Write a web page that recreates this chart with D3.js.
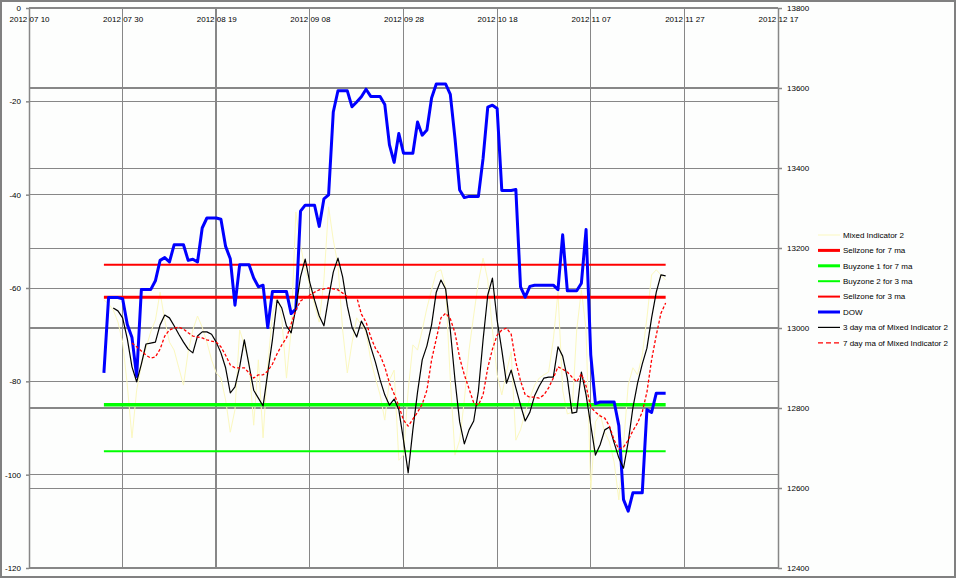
<!DOCTYPE html>
<html><head><meta charset="utf-8">
<script src="https://cdn.jsdelivr.net/npm/d3@7/dist/d3.min.js"></script>
<style>
body{margin:0;background:#fff}
svg{display:block}
text{font-family:"Liberation Sans",Arial,sans-serif;font-size:8px;fill:#000}
</style>
</head><body>
<svg id="chart" width="960" height="584"></svg>
<script>
// ---------------- data ----------------
const axisDates = ["2012-07-10","2012-07-30","2012-08-19","2012-09-08","2012-09-28","2012-10-18","2012-11-07","2012-11-27","2012-12-17"];
const leftTicks = [0,-20,-40,-60,-80,-100,-120];
const rightTicks = [12400,12600,12800,13000,13200,13400,13600,13800];

// daily series, calendar days starting 2012-07-26 (weekends/holidays hold last value)
const seriesStart = "2012-07-26";
const dow = [12888,13076,13076,13076,13073,13009,12976,12879,13096,13096,
13096,13118,13169,13176,13165,13208,13208,13208,13169,13172,
13165,13250,13275,13275,13275,13272,13204,13173,13057,13158,
13158,13158,13125,13103,13107,13001,13091,13091,13091,13091,
13036,13047,13292,13307,13307,13307,13254,13323,13333,13540,
13593,13593,13593,13553,13565,13578,13597,13579,13579,13579,
13559,13458,13414,13486,13437,13437,13437,13515,13482,13495,
13575,13610,13610,13610,13584,13474,13345,13326,13329,13329,
13329,13424,13552,13557,13549,13344,13344,13344,13346,13103,
13077,13104,13107,13107,13107,13107,13107,13096,13233,13093,
13093,13093,13112,13246,12933,12811,12815,12815,12815,12815,
12756,12571,12542,12588,12588,12588,12796,12789,12837,12837,12837];

const mixed = [-62.6,-63.4,-64.7,-67.3,-71.6,-80.8,-92.1,-81.9,-76.5,-72.9,
-69.4,-66.9,-60.9,-66.9,-71.6,-73.3,-77.1,-80.8,-73.7,-69.0,
-66.0,-68.4,-71.6,-75.4,-78.2,-79.3,-84.0,-90.9,-86.1,-69.0,
-72.2,-75.9,-89.4,-75.4,-92.1,-76.5,-65.8,-61.5,-66.4,-79.3,
-69.0,-43.7,-50.8,-56.1,-59.4,-63.6,-67.3,-58.3,-42.6,-49.7,
-55.1,-69.0,-78.2,-71.8,-66.4,-67.9,-69.4,-75.4,-79.3,-82.9,
-88.3,-79.7,-77.6,-96.9,-95.8,-81.9,-72.2,-73.3,-69.0,-64.3,
-60.4,-56.6,-56.1,-60.0,-79.7,-95.8,-92.6,-84.0,-73.3,-65.8,
-58.7,-53.6,-58.3,-69.0,-78.6,-82.9,-78.0,-73.7,-92.6,-90.4,
-86.6,-83.6,-80.8,-79.3,-78.6,-78.0,-71.1,-60.9,-81.9,-87.0,
-86.6,-69.0,-60.4,-69.0,-103.3,-88.7,-87.0,-90.9,-93.0,-97.3,
-105.4,-93.6,-80.8,-77.1,-78.6,-74.4,-66.4,-57.2,-56.1,-57.2,-58.3];

const ma3Start = "2012-07-28";
const ma3 = [-64.3,-64.9,-66.4,-70.9,-76.9,-80.1,-76.3,-72.0,-71.8,-71.6,
-67.9,-65.8,-66.4,-68.1,-69.9,-71.6,-73.1,-73.9,-70.3,-69.4,
-69.4,-69.9,-71.6,-73.9,-77.1,-82.5,-81.2,-76.9,-71.1,-76.5,
-81.9,-83.6,-85.3,-78.2,-71.1,-62.6,-64.3,-68.1,-69.6,-64.3,
-57.6,-53.8,-58.9,-62.6,-66.0,-68.1,-62.1,-56.6,-53.6,-57.6,
-63.9,-68.4,-70.5,-67.1,-69.0,-72.6,-75.9,-79.7,-82.9,-85.1,
-83.8,-86.1,-92.6,-99.6,-90.4,-82.3,-75.4,-72.4,-67.9,-60.9,
-58.3,-60.2,-69.0,-79.7,-88.7,-93.4,-90.4,-88.5,-82.1,-71.1,
-61.5,-57.9,-66.9,-73.3,-80.4,-77.6,-81.4,-85.1,-88.5,-86.6,
-83.1,-81.0,-79.3,-79.1,-79.1,-72.6,-74.6,-79.3,-86.8,-86.6,
-78.0,-82.9,-89.4,-95.8,-93.6,-90.4,-89.8,-93.2,-96.4,-98.6,
-93.0,-85.7,-80.4,-76.3,-72.9,-66.4,-60.9,-57.2,-57.4];

const ma7Start = "2012-08-01";
const ma7 = [-71.8,-72.6,-73.5,-74.4,-75.0,-74.8,-73.1,-70.3,-69.0,-68.6,
-68.4,-68.8,-69.6,-70.3,-70.5,-70.7,-71.1,-71.4,-71.6,-72.6,
-74.4,-76.5,-77.1,-77.1,-77.1,-78.2,-79.3,-78.6,-78.6,-77.8,
-76.3,-74.1,-72.2,-70.7,-67.7,-64.7,-62.8,-62.1,-61.5,-60.9,
-60.4,-60.2,-60.0,-60.2,-60.4,-61.1,-61.9,-61.9,-61.9,-65.6,
-67.3,-70.5,-72.9,-74.4,-76.9,-80.4,-82.7,-85.3,-88.3,-89.6,
-88.1,-86.6,-84.9,-81.9,-75.4,-70.9,-66.4,-65.4,-66.6,-69.6,
-75.0,-78.6,-81.6,-84.6,-85.1,-82.9,-77.1,-73.1,-70.1,-69.0,
-68.6,-69.9,-75.9,-79.9,-82.9,-83.4,-83.4,-83.6,-82.9,-81.4,
-79.3,-76.9,-77.4,-78.0,-79.1,-80.1,-78.4,-81.0,-85.5,-86.6,
-87.4,-87.9,-89.6,-92.6,-94.5,-94.1,-92.6,-90.6,-88.9,-86.6,
-82.3,-75.4,-70.1,-65.4,-63.2];

const zoneNames = ["Sellzone for 7 ma","Buyzone 1 for 7 ma","Buyzone 2 for 3 ma","Sellzone for 3 ma"];
const zoneValues = [-62,-85,-95,-55];

const legendNames = ["Mixed Indicator 2","Sellzone for 7 ma","Buyzone 1 for 7 ma","Buyzone 2 for 3 ma","Sellzone for 3 ma","DOW","3 day ma of Mixed Indicator 2","7 day ma of Mixed Indicator 2"];

// ---------------- styles ----------------
const GRID = "#878787";
const styles = {
  "Mixed Indicator 2": {stroke:"#fbf8bf", width:1, dash:null},
  "Sellzone for 7 ma": {stroke:"#ff0000", width:3, dash:null},
  "Buyzone 1 for 7 ma": {stroke:"#00ff00", width:3.5, dash:null},
  "Buyzone 2 for 3 ma": {stroke:"#00ff00", width:2, dash:null},
  "Sellzone for 3 ma": {stroke:"#ff0000", width:2, dash:null},
  "DOW": {stroke:"#0000ff", width:3, dash:null},
  "3 day ma of Mixed Indicator 2": {stroke:"#000000", width:1.2, dash:null},
  "7 day ma of Mixed Indicator 2": {stroke:"#ff0000", width:1.3, dash:"3,2"}
};

// ---------------- build ----------------
const parse = d3.utcParse("%Y-%m-%d");
const fmt = d3.utcFormat("%Y %m %d");
const tickDates = axisDates.map(parse);
const toPoints = (start, arr) => arr.map((v,i)=>({date:d3.utcDay.offset(parse(start), i), v}));
const dowPts = toPoints(seriesStart, dow);
const mixedPts = toPoints(seriesStart, mixed);
const ma3Pts = toPoints(ma3Start, ma3);
const ma7Pts = toPoints(ma7Start, ma7);
const firstDate = dowPts[0].date, lastDate = dowPts[dowPts.length-1].date;

const L = 29, R = 778, T = 8, B = 568;
const x = d3.scaleUtc().domain([tickDates[0], tickDates[tickDates.length-1]]).range([L,R]);
const yL = d3.scaleLinear().domain([-120,0]).range([B,T]);
const yR = d3.scaleLinear().domain([12400,13800]).range([B,T]);

const svg = d3.select("#chart");
svg.append("rect").attr("width",960).attr("height",584).attr("fill","#fff");
svg.append("rect").attr("x",1).attr("y",1).attr("width",954).attr("height",576)
  .attr("fill","#fdfefd").attr("stroke","#808080").attr("stroke-width",2);

// gridlines
const grid = svg.append("g");
const thickRight = [13600,13000,12800];
grid.selectAll(".hl").data(leftTicks).join("line")
  .attr("x1",L).attr("x2",R).attr("y1",d=>yL(d)).attr("y2",d=>yL(d))
  .attr("stroke",GRID).attr("stroke-width",1).attr("shape-rendering","crispEdges");
grid.selectAll(".hr").data(rightTicks).join("line")
  .attr("x1",L).attr("x2",R).attr("y1",d=>yR(d)).attr("y2",d=>yR(d))
  .attr("stroke",GRID).attr("stroke-width",d=>thickRight.includes(d)?2:1).attr("shape-rendering","crispEdges");
grid.selectAll(".v").data(tickDates).join("line")
  .attr("x1",d=>x(d)).attr("x2",d=>x(d)).attr("y1",T).attr("y2",B)
  .attr("stroke",GRID).attr("stroke-width",(d,i)=>i===2?2:1).attr("shape-rendering","crispEdges");
grid.append("line").attr("x1",L).attr("x2",R).attr("y1",B).attr("y2",B)
  .attr("stroke",GRID).attr("stroke-width",2);
grid.append("line").attr("x1",L).attr("x2",R).attr("y1",T).attr("y2",T)
  .attr("stroke",GRID).attr("stroke-width",2);

// axes
const styleAxis = g => {
  g.selectAll(".domain").attr("stroke",GRID).attr("stroke-width",1.5);
  g.selectAll(".tick line").attr("stroke",GRID).attr("stroke-width",1.5);
  g.selectAll("text").attr("font-family",null).attr("font-size",null);
};
svg.append("g").attr("transform",`translate(${L},0)`)
  .call(d3.axisLeft(yL).tickValues(leftTicks).tickFormat(d=>String(d)).tickSize(3).tickPadding(5).tickSizeOuter(0))
  .call(styleAxis);
svg.append("g").attr("transform",`translate(${R},0)`)
  .call(d3.axisRight(yR).tickValues(rightTicks).tickFormat(d=>String(d)).tickSize(4).tickPadding(5).tickSizeOuter(0))
  .call(styleAxis);
svg.append("g").attr("transform",`translate(0,${T})`)
  .call(d3.axisBottom(x).tickValues(tickDates).tickFormat(fmt).tickSize(0).tickPadding(8).tickSizeOuter(0))
  .call(g=>{g.select(".domain").remove(); g.selectAll("text").attr("font-family",null).attr("font-size",null);});

// series
const plot = svg.append("g").attr("fill","none").attr("stroke-linejoin","round");
const lineL = d3.line().x(d=>x(d.date)).y(d=>yL(d.v));
const lineR = d3.line().x(d=>x(d.date)).y(d=>yR(d.v));
const applyStyle = (sel, name) => {
  const s = styles[name];
  sel.attr("stroke",s.stroke).attr("stroke-width",s.width);
  if (s.dash) sel.attr("stroke-dasharray",s.dash);
};
plot.append("path").datum(mixedPts).attr("d",lineL).call(applyStyle,"Mixed Indicator 2");
zoneNames.forEach((n,i)=>{
  plot.append("line").attr("x1",x(firstDate)).attr("x2",x(lastDate))
    .attr("y1",yL(zoneValues[i])).attr("y2",yL(zoneValues[i])).call(applyStyle,n);
});
plot.append("path").datum(dowPts).attr("d",lineR).call(applyStyle,"DOW");
plot.append("path").datum(ma3Pts).attr("d",lineL).call(applyStyle,"3 day ma of Mixed Indicator 2");
plot.append("path").datum(ma7Pts).attr("d",lineL).call(applyStyle,"7 day ma of Mixed Indicator 2");

// legend
const lg = svg.append("g").attr("transform","translate(818,235)");
legendNames.forEach((n,i)=>{
  const row = lg.append("g").attr("transform",`translate(0,${i*15.4})`);
  const s = styles[n];
  row.append("line").attr("x1",0).attr("x2",22).attr("y1",0).attr("y2",0)
    .attr("stroke",s.stroke).attr("stroke-width",Math.min(s.width,3)).attr("stroke-dasharray",s.dash ? "5,3" : null);
  row.append("text").attr("x",25).attr("dy","0.35em").text(n);
});
</script>
</body></html>
